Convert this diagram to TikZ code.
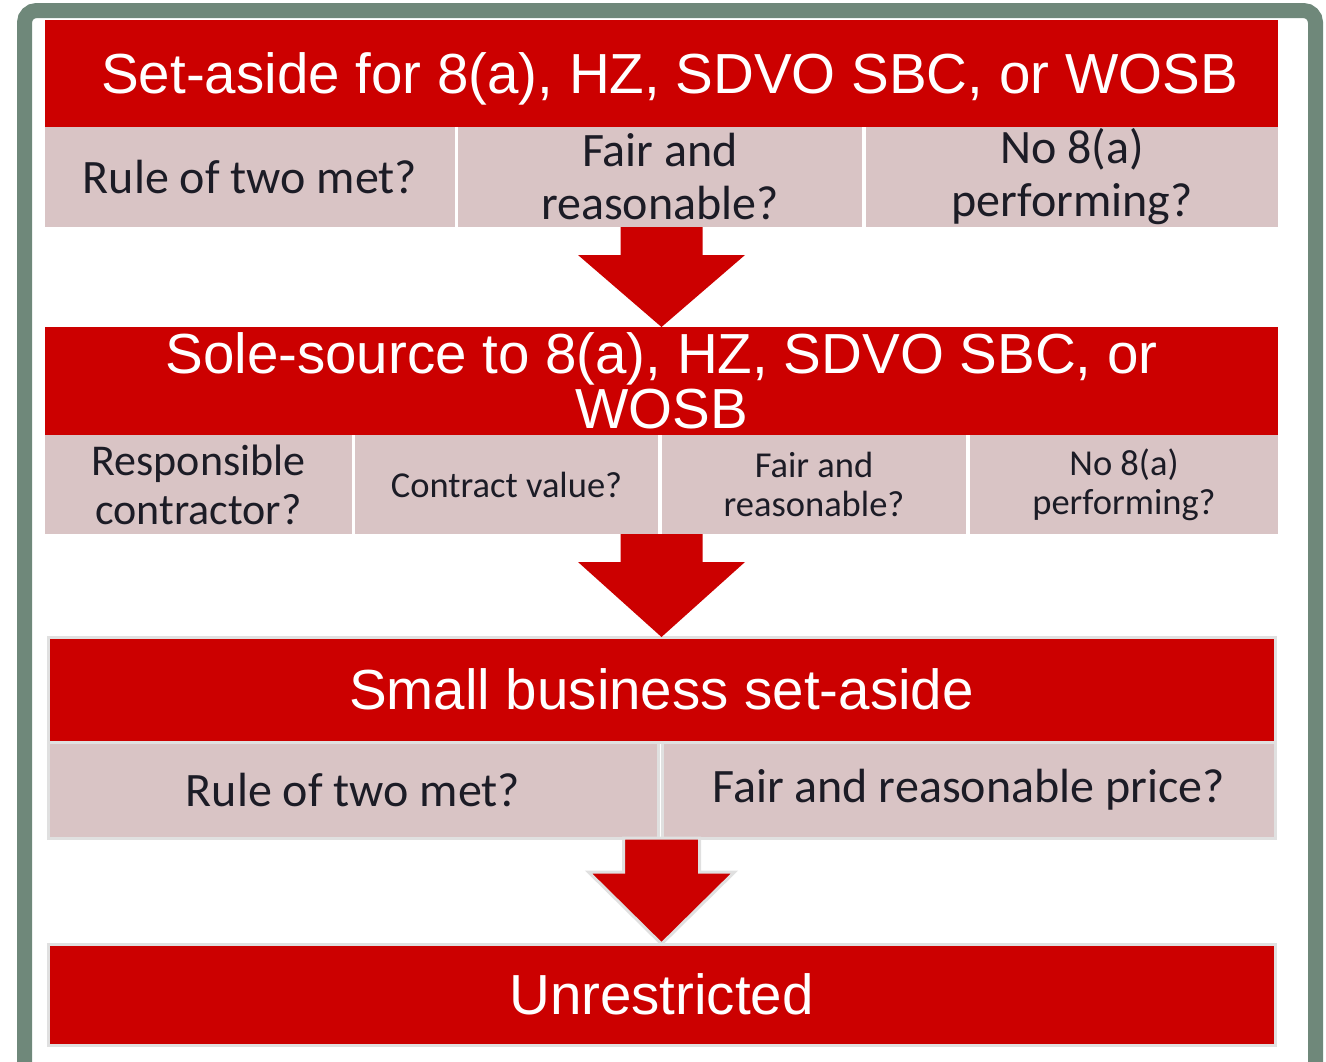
\documentclass[tikz,border=0pt]{standalone}
\usepackage{fontspec}
\setmainfont{Liberation Sans}
\newfontfamily\cellfont{Carlito}
\usetikzlibrary{calc}
\definecolor{hdred}{RGB}{204,0,0}
\definecolor{cellpink}{RGB}{217,196,197}
\definecolor{framegreen}{RGB}{111,136,122}
\definecolor{celltext}{RGB}{28,28,38}
\newcommand\blockarrow[6][]{%
  \path[#1] ($(#2)+(-#4,0)$) -- ($(#2)+(#4,0)$) -- ($(#3)+(#4,-#6)$) -- ($(#3)+(#5,-#6)$)
  -- (#3) -- ($(#3)+(-#5,-#6)$) -- ($(#3)+(-#4,-#6)$) -- cycle;}
\begin{document}
\begin{tikzpicture}[x=1pt,y=-1pt,
  header/.style={anchor=north west,fill=hdred,text=white,inner sep=0pt,outer sep=0pt,
    align=center,font=\fontsize{56.5}{55}\selectfont},
  cell/.style={anchor=north west,fill=cellpink,text=celltext,inner sep=0pt,outer sep=0pt,
    align=center,font=\cellfont\fontsize{48}{53}\selectfont},
  smallcell/.style={cell,font=\cellfont\fontsize{36.5}{39}\selectfont},
  midcell/.style={cell,font=\cellfont\fontsize{44}{49}\selectfont},
  shade/.style={draw=black!12,line width=3pt},
  arrowfill/.style={fill=hdred}
]
\useasboundingbox (0,0) rectangle (1326,1061);
\clip (0,0) rectangle (1326,1061);
\fill[white] (0,0) rectangle (1326,1061);
% frame
\draw[framegreen,line width=15pt,rounded corners=12pt] (24.5,10.5) rectangle (1315.5,1090);

% row 1
\node[header,minimum width=1233,minimum height=107,text depth=-6pt] (h1) at (45,20) {\hspace*{16pt}Set-aside for 8(a), HZ, SDVO SBC, or WOSB};
\node[cell,minimum width=410,minimum height=100] (c11) at (45,127) {Rule of two met?};
\node[cell,minimum width=404,minimum height=100] (c12) at (458,127) {Fair and\\reasonable?};
\node[cell,minimum width=412,minimum height=100] (c13) at (866,127) {No 8(a)\\performing?};

% row 2
\node[header,minimum width=1233,minimum height=108] (h2) at (45,327) {Sole-source to 8(a), HZ, SDVO SBC, or\\WOSB};
\node[midcell,minimum width=307,minimum height=99] (c21) at (45,435) {Responsible\\contractor?};
\node[smallcell,minimum width=303,minimum height=99] (c22) at (355,435) {Contract value?};
\node[smallcell,minimum width=304,minimum height=99] (c23) at (662,435) {Fair and\\reasonable?};
\node[smallcell,minimum width=308,minimum height=99] (c24) at (970,435) {No 8(a)\\performing?};

% row 3
\node[header,shade,minimum width=1227,minimum height=105] (h3) at (48,637) {Small business set-aside};
\node[cell,shade,minimum width=610,minimum height=96] (c31) at (48,742) {Rule of two met?};
\node[cell,shade,minimum width=613,minimum height=96] (c32) at (662,742) {Fair and reasonable price?};

% row 4
\node[header,shade,minimum width=1227,minimum height=101] (h4) at (48,944) {Unrestricted};

% arrows
\coordinate (a1s) at (h1.center |- c11.south);
\coordinate (a2s) at (h1.center |- c21.south);
\coordinate (a3s) at (h1.center |- c31.south);
\blockarrow[arrowfill]{a1s}{h2.north}{41}{83.5}{72}
\blockarrow[arrowfill]{a2s}{h3.north}{41}{83.5}{75}
\blockarrow[arrowfill,shade]{a3s}{h4.north}{38}{73}{72}
\end{tikzpicture}
\end{document}
